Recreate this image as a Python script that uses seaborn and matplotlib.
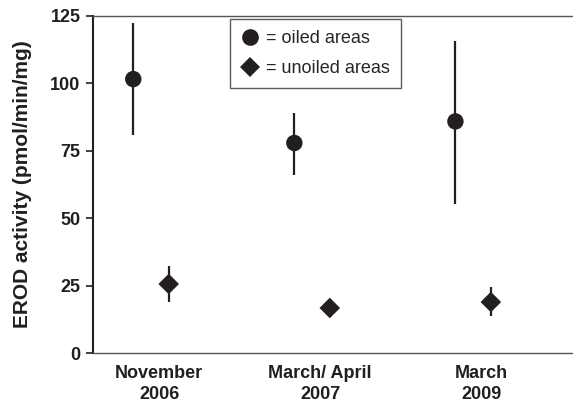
import matplotlib
matplotlib.use("Agg")
import matplotlib.pyplot as plt
from matplotlib.lines import Line2D
import numpy as np
import pandas as pd
import seaborn as sns

# Sampling periods
periods = ["November\n2006", "March/ April\n2007", "March\n2009"]

# EROD activity (pmol/min/mg): means with lower/upper error limits
oiled_mean = [101.6, 77.9, 85.9]
oiled_low = [80.9, 66.0, 55.3]
oiled_high = [122.3, 89.1, 115.8]

unoiled_mean = [25.6, 16.7, 18.9]
unoiled_low = [18.8, 16.7, 13.8]
unoiled_high = [32.4, 16.7, 24.6]

yticks = [0, 25, 50, 75, 100, 125]

sns.set_theme(style="white")
plt.rcParams["font.family"] = ["Liberation Sans", "DejaVu Sans"]

ink = "#231f20"
x = np.arange(len(periods))
x_oiled = x - 0.16
x_unoiled = x + 0.06

df = pd.concat([
    pd.DataFrame({"x": x_oiled, "y": oiled_mean, "lo": oiled_low,
                  "hi": oiled_high, "group": "oiled"}),
    pd.DataFrame({"x": x_unoiled, "y": unoiled_mean, "lo": unoiled_low,
                  "hi": unoiled_high, "group": "unoiled"}),
], ignore_index=True)

fig = plt.figure(figsize=(5.73, 4.04), dpi=100)
ax = fig.add_axes([93 / 573, 51 / 404, 1 - 93 / 573, (353 - 16) / 404])

# vertical error bars, no caps
ax.vlines(df["x"], df["lo"], df["hi"], colors=ink, linewidth=1.6, zorder=2)

sns.scatterplot(data=df, x="x", y="y", style="group",
                markers={"oiled": "o", "unoiled": "D"},
                size="group", sizes={"oiled": 140, "unoiled": 110},
                color=ink, edgecolor=ink, linewidth=0, legend=False,
                ax=ax, zorder=3)

ax.set_xlim(-0.41, 2.57)
ax.set_ylim(0, 125)
ax.set_yticks(yticks)
ax.set_yticklabels([str(t) for t in yticks], fontsize=13, fontweight="bold",
                   color=ink)
ax.set_xticks(x)
ax.set_xticklabels(periods, fontsize=13, fontweight="bold", color=ink,
                   linespacing=1.3)
ax.tick_params(axis="y", direction="out", length=5, width=1.2, pad=4,
               left=True, color=ink)
ax.tick_params(axis="x", length=0, pad=9)
ax.set_xlabel("")
ax.set_ylabel("EROD activity (pmol/min/mg)", fontsize=15, fontweight="bold",
              color=ink, labelpad=13)

for side in ["top", "bottom"]:
    ax.spines[side].set_color("#555555")
    ax.spines[side].set_linewidth(1.0)
ax.spines["left"].set_color(ink)
ax.spines["left"].set_linewidth(1.5)
ax.spines["right"].set_visible(False)

handles = [
    Line2D([], [], linestyle="none", marker="o", markersize=12,
           color=ink, markeredgewidth=0),
    Line2D([], [], linestyle="none", marker="D", markersize=10,
           color=ink, markeredgewidth=0),
]
leg = ax.legend(handles, ["= oiled areas", "= unoiled areas"],
                loc="upper left",
                bbox_to_anchor=((230 - 93) / 480, (353 - 19) / 337),
                frameon=True, fancybox=False, fontsize=13, handlelength=1.0,
                handletextpad=0.4, borderpad=0.6, labelspacing=0.75,
                borderaxespad=0)
leg.get_frame().set_edgecolor("#333333")
leg.get_frame().set_linewidth(1.0)

fig.savefig("out.png", dpi=100)
